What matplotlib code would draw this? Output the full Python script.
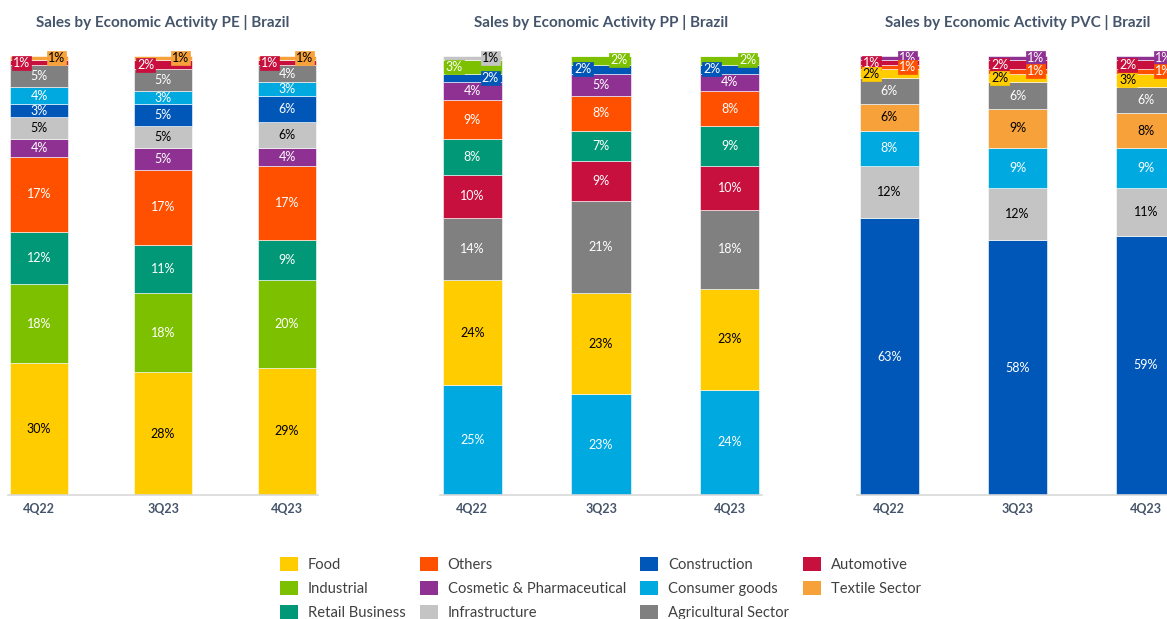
import matplotlib
matplotlib.use('Agg')
import matplotlib.pyplot as plt
from matplotlib.patches import Patch

plt.rcParams['font.family'] = ['Lato', 'DejaVu Sans']

periods = ['4Q22', '3Q23', '4Q23']

# segments listed bottom -> top, values in % for 4Q22, 3Q23, 4Q23
pe_segments = ['Food', 'Industrial', 'Retail Business', 'Others', 'Cosmetic & Pharmaceutical',
               'Infrastructure', 'Construction', 'Consumer goods', 'Agricultural Sector',
               'Automotive', 'Textile Sector']
pe_values = [[30, 28, 29], [18, 18, 20], [12, 11, 9], [17, 17, 17], [4, 5, 4],
             [5, 5, 6], [3, 5, 6], [4, 3, 3], [5, 5, 4], [1, 2, 1], [1, 1, 1]]

pp_segments = ['Consumer goods', 'Food', 'Agricultural Sector', 'Automotive', 'Retail Business',
               'Others', 'Cosmetic & Pharmaceutical', 'Construction', 'Industrial', 'Infrastructure']
pp_values = [[25, 23, 24], [24, 23, 23], [14, 21, 18], [10, 9, 10], [8, 7, 9],
             [9, 8, 8], [4, 5, 4], [2, 2, 2], [3, 2, 2], [1, 0, 0]]

pvc_segments = ['Construction', 'Infrastructure', 'Consumer goods', 'Textile Sector',
                'Agricultural Sector', 'Food', 'Others', 'Automotive', 'Cosmetic & Pharmaceutical']
pvc_values = [[63, 58, 59], [12, 12, 11], [8, 9, 9], [6, 9, 8], [6, 6, 6],
              [2, 2, 3], [1, 1, 1], [1, 2, 2], [1, 1, 1]]

legend_order = ['Food', 'Industrial', 'Retail Business', 'Others', 'Cosmetic & Pharmaceutical',
                'Infrastructure', 'Construction', 'Consumer goods', 'Agricultural Sector',
                'Automotive', 'Textile Sector']

colors = {
    'Food': '#FFCC00', 'Others': '#FF5000', 'Construction': '#0057B8', 'Automotive': '#C8103E',
    'Industrial': '#7DC000', 'Cosmetic & Pharmaceutical': '#8E3192', 'Consumer goods': '#00A9E0',
    'Textile Sector': '#F7A13B', 'Retail Business': '#009877', 'Infrastructure': '#C4C4C4',
    'Agricultural Sector': '#808080',
}
dark_text = {'Food', 'Textile Sector', 'Infrastructure'}
title_color = '#44546A'

W, H = 1167, 619
fig = plt.figure(figsize=(W / 100, H / 100), dpi=100)


def draw_panel(left_px, width_px, title, segments, values):
    ax = fig.add_axes([left_px / W, (H - 495) / H, width_px / W, (495 - 56) / H])
    x = list(range(len(periods)))
    bottoms = [0] * len(periods)
    stacks = [[] for _ in periods]
    for seg, vals in zip(segments, values):
        ax.bar(x, vals, 0.46, bottom=bottoms, color=colors[seg],
               edgecolor='white', linewidth=0.4, zorder=2)
        for i, v in enumerate(vals):
            if v > 0:
                stacks[i].append((seg, v, bottoms[i] + v / 2))
        bottoms = [b + v for b, v in zip(bottoms, vals)]

    # small top segments get a boxed label, alternating right / left
    for i, stack in enumerate(stacks):
        boxed = True
        side = 1
        for seg, v, yc in reversed(stack):
            tc = 'black' if seg in dark_text else 'white'
            if boxed and v <= 3:
                ax.text(i + 0.14 * side, yc, f'{v}%', ha='center', va='center',
                        fontsize=9, color=tc, zorder=4,
                        bbox=dict(boxstyle='square,pad=0.08', fc=colors[seg],
                                  ec=colors[seg], lw=0.5))
                side = -side
            else:
                boxed = False
                ax.text(i, yc, f'{v}%', ha='center', va='center',
                        fontsize=9, color=tc, zorder=3)

    ax.set_xlim(-0.25, 2.25)
    ax.set_ylim(0, 100)
    ax.set_xticks(x, periods)
    ax.tick_params(axis='x', length=0, pad=6, labelsize=9, labelcolor=title_color)
    for lab in ax.get_xticklabels():
        lab.set_fontweight('bold')
    ax.set_yticks([])
    for s in ['top', 'right', 'left']:
        ax.spines[s].set_visible(False)
    ax.spines['bottom'].set_color('#D9D9D9')
    ax.spines['bottom'].set_linewidth(1.2)
    fig.text((left_px + width_px / 2) / W, 1 - 22 / H, title, ha='center', va='center',
             fontsize=11, fontweight='bold', color=title_color)
    return ax


draw_panel(8, 310, 'Sales by Economic Activity PE | Brazil', pe_segments, pe_values)
draw_panel(440, 322, 'Sales by Economic Activity PP | Brazil', pp_segments, pp_values)
draw_panel(857, 321, 'Sales by Economic Activity PVC | Brazil', pvc_segments, pvc_values)

handles = [Patch(facecolor=colors[c], edgecolor='none', label=c) for c in legend_order]
fig.legend(handles=handles, ncol=4, loc='upper left', bbox_to_anchor=(280 / W, 1 - 557 / H),
           frameon=False, fontsize=10.6, labelcolor='#404040', handlelength=1.25,
           handleheight=1.1, handletextpad=0.65, columnspacing=0.95, labelspacing=0.6,
           borderpad=0, borderaxespad=0)

fig.savefig('out.png', dpi=100)
